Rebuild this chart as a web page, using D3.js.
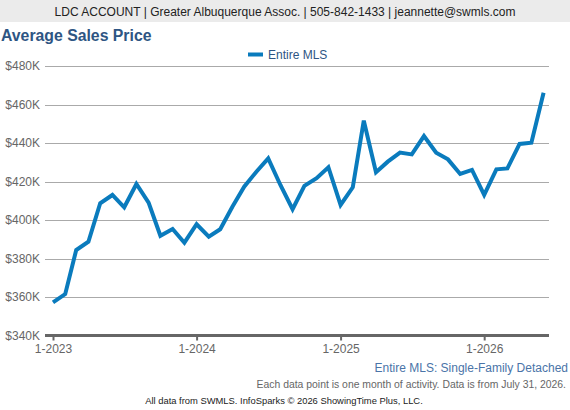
<!DOCTYPE html>
<html>
<head>
<meta charset="utf-8">
<script src="https://cdn.jsdelivr.net/npm/d3@7"></script>
<style>
  body { margin: 0; background: #fff; }
  svg { display: block; font-family: "Liberation Sans", Arial, sans-serif; }
</style>
</head>
<body>
<svg id="chart" width="570" height="410"></svg>
<script>
// monthly average sales price, Jan 2023 .. Jun 2026 (in $K)
const months = d3.range(42).map(i => new Date(2023, i, 1));
const prices = [
  357.2, 361.5, 384.4, 388.7, 408.7, 413.0, 406.6, 418.7, 409.0, 391.8, 395.3, 388.2,
  397.8, 391.3, 395.2, 406.9, 417.3, 425.1, 432.0, 418.2, 405.6, 417.7, 421.7, 427.4,
  407.8, 417.0, 451.6, 424.8, 430.3, 435.0, 434.1, 443.6, 435.0, 431.5, 423.9, 426.0,
  413.0, 426.3, 426.8, 439.5, 440.2, 466.1
];
const yTicks = [340, 360, 380, 400, 420, 440, 460, 480];
const xTicks = [new Date(2023, 0, 1), new Date(2024, 0, 1), new Date(2025, 0, 1), new Date(2026, 0, 1)];

const headerText = 'LDC ACCOUNT | Greater Albuquerque Assoc. | 505-842-1433 | jeannette@swmls.com';
const title = 'Average Sales Price';
const seriesName = 'Entire MLS';

const lineColor = '#0a7bbd';
const svg = d3.select('#chart');

// header bar
svg.append('rect').attr('x', 0).attr('y', 0).attr('width', 570).attr('height', 22).attr('fill', '#ebebeb');
svg.append('text').attr('x', 285).attr('y', 16).attr('text-anchor', 'middle')
  .attr('font-size', 12).attr('fill', '#222').text(headerText);

svg.append('text').attr('x', 1).attr('y', 41).attr('font-size', 15.8).attr('font-weight', 'bold')
  .attr('fill', '#2e5583').text(title);

// legend
svg.append('line').attr('x1', 248).attr('x2', 263).attr('y1', 54.5).attr('y2', 54.5)
  .attr('stroke', lineColor).attr('stroke-width', 4);
svg.append('text').attr('x', 268).attr('y', 59).attr('font-size', 12).attr('fill', '#2e5583').text(seriesName);

const x = d3.scaleTime()
  .domain([months[0], new Date(2026, 8, 1)])
  .range([53, 53 + 44 * 12 * (431 / 432)]);
const y = d3.scaleLinear().domain([340, 480]).range([335.5, 66]);

// grid
svg.append('g')
  .selectAll('line')
  .data(yTicks.filter(d => d > 340))
  .join('line')
  .attr('x1', 45).attr('x2', 549)
  .attr('y1', d => Math.round(y(d)) + 0.5).attr('y2', d => Math.round(y(d)) + 0.5)
  .attr('stroke', '#aaa').attr('stroke-width', 1);

// y axis labels
const yAxis = d3.axisLeft(y).tickValues(yTicks).tickSize(0).tickPadding(0)
  .tickFormat(d => '$' + d + 'K');
svg.append('g').attr('transform', 'translate(40,0)').call(yAxis)
  .call(g => g.select('.domain').remove())
  .call(g => g.selectAll('text').attr('font-size', 12).attr('fill', '#666')
    .attr('font-family', '"Liberation Sans", Arial, sans-serif'));

// x axis
const xAxis = d3.axisBottom(x).tickValues(xTicks).tickSize(5).tickPadding(4)
  .tickFormat(d3.timeFormat('%-m-%Y'));
svg.append('g').attr('transform', 'translate(0,335.5)').call(xAxis)
  .call(g => g.select('.domain').remove())
  .call(g => g.selectAll('.tick line').attr('stroke', '#666').attr('stroke-width', 2))
  .call(g => g.selectAll('text').attr('font-size', 12).attr('fill', '#666')
    .attr('font-family', '"Liberation Sans", Arial, sans-serif'));
svg.append('line').attr('x1', 45).attr('x2', 549).attr('y1', 335.5).attr('y2', 335.5)
  .attr('stroke', '#666').attr('stroke-width', 3);

// series line
const line = d3.line().x((d, i) => x(months[i])).y(d => y(d));
svg.append('path').datum(prices).attr('d', line)
  .attr('fill', 'none').attr('stroke', lineColor).attr('stroke-width', 4)
  .attr('stroke-linejoin', 'miter').attr('stroke-linecap', 'butt');

// footer notes
svg.append('text').attr('x', 568).attr('y', 372).attr('text-anchor', 'end')
  .attr('font-size', 12).attr('fill', '#4a74a8').text('Entire MLS: Single-Family Detached');
svg.append('text').attr('x', 566).attr('y', 388).attr('text-anchor', 'end')
  .attr('font-size', 10.4).attr('fill', '#666')
  .text('Each data point is one month of activity. Data is from July 31, 2026.');
svg.append('text').attr('x', 284).attr('y', 404).attr('text-anchor', 'middle')
  .attr('font-size', 9.4).attr('fill', '#222')
  .text('All data from SWMLS. InfoSparks \u00a9 2026 ShowingTime Plus, LLC.');
</script>
</body>
</html>
